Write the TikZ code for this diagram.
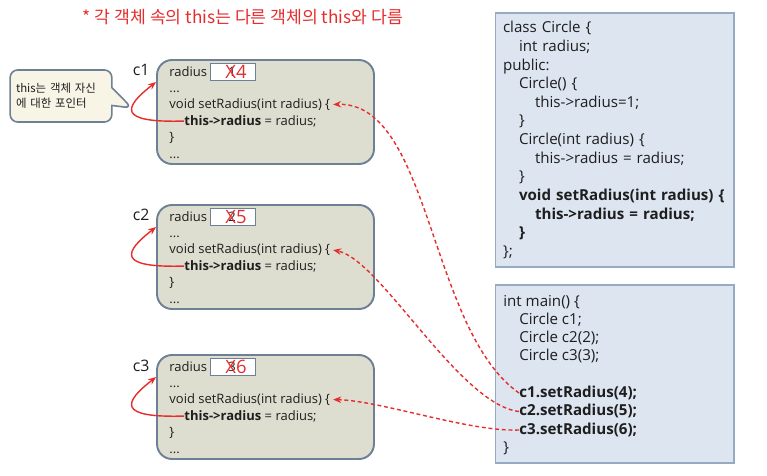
\documentclass[tikz,border=0pt]{standalone}
\usepackage{fontspec}
\setmainfont{Open Sans}
\newfontfamily\kr{Noto Sans CJK KR}
\usetikzlibrary{positioning,arrows.meta,calc,shapes.callouts}
\definecolor{objc}{RGB}{110,128,150}
\definecolor{objf}{RGB}{222,222,208}
\definecolor{codec}{RGB}{150,170,195}
\definecolor{codef}{RGB}{220,229,240}
\definecolor{notef}{RGB}{248,244,230}
\definecolor{redc}{RGB}{230,45,45}
\definecolor{txtc}{RGB}{30,30,30}
\tikzset{
  objbox/.style  = {draw=objc, line width=1.1pt, fill=objf, rounded corners=3mm,
                    minimum width=4.34cm, minimum height=2.08cm},
  valbox/.style  = {draw=objc, line width=0.8pt, fill=white, inner sep=0pt,
                    minimum width=0.9cm, minimum height=0.34cm},
  ln/.style      = {anchor=west, inner sep=0pt, text height=0.75em, text depth=0.25em,
                    text=txtc, font=\fontsize{7.4}{9}\selectfont},
  cln/.style     = {ln, font=\fontsize{8.6}{10}\selectfont},
  objlbl/.style  = {text=txtc, font=\fontsize{9}{10}\selectfont},
  newval/.style  = {anchor=west, inner sep=0pt, text=redc, font=\fontsize{10.5}{11}\selectfont},
  codebox/.style = {draw=codec, line width=0.6pt, fill=codef},
  note/.style    = {rectangle callout, draw=objc, line width=0.9pt, fill=notef,
                    rounded corners=1.5mm, align=left, text width=1.8cm,
                    minimum width=1.96cm, minimum height=1.04cm, callout pointer width=0.36cm,
                    text=txtc, font=\kr\fontsize{6.5}{8.5}\selectfont},
  selfref/.style = {-{Stealth[length=1.6mm,width=1.3mm]}, line width=0.8pt, draw=redc},
  callarrow/.style = {selfref, dash pattern=on 2.2pt off 1.6pt, shorten >=1.5pt},
}

\begin{document}
\begin{tikzpicture}[x=0.02cm, y=-0.02cm]
\useasboundingbox (0,0) rectangle (767,476);

% --- title --------------------------------------------------------------
\node[text=redc, font=\kr\fontsize{9.8}{11}\selectfont] (title) at (243,17)
  {* 각 객체 속의 this는 다른 객체의 this와 다름};

% --- object c1 ----------------------------------------------------------
\node[objbox] (obj1) at (265.5,112) {};
\node[objlbl] (lbl1) at ($(obj1.north west)+(-15,11)$) {c1};
\node[ln] (rad1) at ($(obj1.north west)+(13,13)$) {radius};
\node[valbox] (val1) at ($(obj1.north west)+(77,13)$) {};
\node[ln] (old1) at ($(obj1.north west)+(72,13)$) {1};
\node[newval] (new1) at ($(obj1.north west)+(69,13)$) {X4};
\node[ln] (dots1) at ($(obj1.north west)+(13,29)$) {...};
\node[ln] (set1) at ($(obj1.north west)+(13,45.5)$) {void setRadius(int radius) \{};
\node[ln] (this1) at ($(obj1.north west)+(28,62)$) {\textbf{this->radius} = radius;};
\node[ln] (end1) at ($(obj1.north west)+(13,78.5)$) {\}};
\node[ln] (more1) at ($(obj1.north west)+(13,95)$) {...};
\coordinate (in1) at ($(obj1.north west)+(0,23)$);

% --- object c2 ----------------------------------------------------------
\node[objbox] (obj2) at (265.5,257) {};
\node[objlbl] (lbl2) at ($(obj2.north west)+(-15,11)$) {c2};
\node[ln] (rad2) at ($(obj2.north west)+(13,13)$) {radius};
\node[valbox] (val2) at ($(obj2.north west)+(77,13)$) {};
\node[ln] (old2) at ($(obj2.north west)+(72,13)$) {2};
\node[newval] (new2) at ($(obj2.north west)+(69,13)$) {X5};
\node[ln] (dots2) at ($(obj2.north west)+(13,29)$) {...};
\node[ln] (set2) at ($(obj2.north west)+(13,45.5)$) {void setRadius(int radius) \{};
\node[ln] (this2) at ($(obj2.north west)+(28,62)$) {\textbf{this->radius} = radius;};
\node[ln] (end2) at ($(obj2.north west)+(13,78.5)$) {\}};
\node[ln] (more2) at ($(obj2.north west)+(13,95)$) {...};
\coordinate (in2) at ($(obj2.north west)+(0,23)$);

% --- object c3 ----------------------------------------------------------
\node[objbox] (obj3) at (265.5,407) {};
\node[objlbl] (lbl3) at ($(obj3.north west)+(-15,12)$) {c3};
\node[ln] (rad3) at ($(obj3.north west)+(13,13)$) {radius};
\node[valbox] (val3) at ($(obj3.north west)+(77,13)$) {};
\node[ln] (old3) at ($(obj3.north west)+(72,13)$) {3};
\node[newval] (new3) at ($(obj3.north west)+(69,13)$) {X6};
\node[ln] (dots3) at ($(obj3.north west)+(13,29)$) {...};
\node[ln] (set3) at ($(obj3.north west)+(13,45.5)$) {void setRadius(int radius) \{};
\node[ln] (this3) at ($(obj3.north west)+(28,62)$) {\textbf{this->radius} = radius;};
\node[ln] (end3) at ($(obj3.north west)+(13,78.5)$) {\}};
\node[ln] (more3) at ($(obj3.north west)+(13,95)$) {...};
\coordinate (in3) at ($(obj3.north west)+(0,23)$);

% --- callout ------------------------------------------------------------
\node[note, callout absolute pointer={(132,108)}] (note) at (61,96)
  {this는 객체 자신\\에 대한 포인터};

% --- class declaration --------------------------------------------------
\node[codebox, minimum width=4.78cm, minimum height=5.08cm, align=left, text width=4.46cm,
      text=txtc, font=\fontsize{8.6}{10.6}\selectfont] (cls) at (614.5,140)
  {class Circle \{\\
   \hspace*{0.32cm}int radius;\\
   public:\\
   \hspace*{0.32cm}Circle() \{\\
   \hspace*{0.64cm}this->radius=1;\\
   \hspace*{0.32cm}\}\\
   \hspace*{0.32cm}Circle(int radius) \{\\
   \hspace*{0.64cm}this->radius = radius;\\
   \hspace*{0.32cm}\}\\
   \hspace*{0.32cm}\textbf{void setRadius(int radius) \{}\\
   \hspace*{0.64cm}\textbf{this->radius = radius;}\\
   \hspace*{0.32cm}\textbf{\}}\\
   \};};

% --- main ---------------------------------------------------------------
\node[codebox, minimum width=4.78cm, minimum height=3.56cm] (mainbox) at (614.5,374) {};
\node[cln] (m0) at (503,302) {int main() \{};
\node[cln] (m1) at (519,320) {Circle c1;};
\node[cln] (m2) at (519,338) {Circle c2(2);};
\node[cln] (m3) at (519,356) {Circle c3(3);};
\node[cln] (call1) at (519,393) {\textbf{c1.setRadius(4);}};
\node[cln] (call2) at (519,411.5) {\textbf{c2.setRadius(5);}};
\node[cln] (call3) at (519,430) {\textbf{c3.setRadius(6);}};
\node[cln] (m9) at (503,448) {\}};

% --- this points back at its own object ---------------------------------
\draw[selfref] (this1.west) .. controls +(-68,2) and +(-32,25) .. (in1);
\draw[selfref] (this2.west) .. controls +(-68,2) and +(-32,25) .. (in2);
\draw[selfref] (this3.west) .. controls +(-68,2) and +(-32,25) .. (in3);

% --- calls --------------------------------------------------------------
\draw[callarrow] (call1.west) .. controls +(-90,-63) and +(100,-3) .. (set1.east);
\draw[callarrow] (call2.west) .. controls +(-60,-7) and +(50,10) .. (set2.east);
\draw[callarrow] (call3.west) .. controls +(-50,2) and +(50,1) .. (set3.east);

\end{tikzpicture}
\end{document}
